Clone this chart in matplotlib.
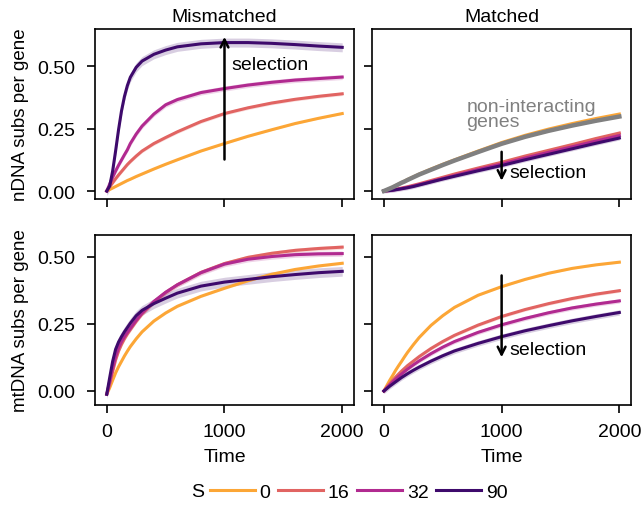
import numpy as np
import matplotlib.pyplot as plt

plt.rcParams['font.family'] = ['Liberation Sans', 'DejaVu Sans']
plt.rcParams['font.size'] = 14
plt.rcParams['axes.linewidth'] = 1.2

# czasy (wspolne dla wszystkich krzywych)
czas = [0, 25, 50, 75, 100, 125, 150, 175, 200, 250, 300, 400, 500, 600, 800, 1000, 1200, 1400, 1600, 1800, 2000]

S_labels = ['0', '16', '32', '90']
kolory = ['#fca636', '#e16462', '#b12a90', '#3e0a6c']

# nDNA, mismatched
nd_mis_0 = [0, 0.006, 0.012, 0.018, 0.024, 0.03, 0.036, 0.042, 0.047, 0.058, 0.068, 0.088, 0.107, 0.125, 0.16, 0.19, 0.219, 0.245, 0.27, 0.291, 0.31]
nd_mis_16 = [0, 0.017, 0.033, 0.049, 0.064, 0.078, 0.092, 0.106, 0.118, 0.14, 0.16, 0.19, 0.214, 0.237, 0.278, 0.31, 0.333, 0.352, 0.367, 0.379, 0.389]
nd_mis_32 = [0, 0.028, 0.055, 0.08, 0.103, 0.124, 0.145, 0.165, 0.19, 0.228, 0.26, 0.308, 0.345, 0.366, 0.394, 0.41, 0.424, 0.435, 0.444, 0.45, 0.456]
nd_mis_90 = [0, 0.02, 0.08, 0.16, 0.245, 0.32, 0.378, 0.422, 0.455, 0.495, 0.52, 0.547, 0.564, 0.577, 0.589, 0.594, 0.594, 0.591, 0.586, 0.58, 0.575]

# nDNA, matched
nd_mat_0 = [0, 0.005, 0.01, 0.016, 0.022, 0.028, 0.034, 0.04, 0.046, 0.057, 0.068, 0.088, 0.107, 0.125, 0.16, 0.194, 0.223, 0.248, 0.27, 0.29, 0.308]
nd_mat_16 = [0, 0.001, 0.003, 0.005, 0.007, 0.0095, 0.012, 0.0145, 0.017, 0.023, 0.029, 0.042, 0.055, 0.068, 0.092, 0.115, 0.14, 0.163, 0.186, 0.21, 0.232]
nd_mat_32 = [0, 0.001, 0.002, 0.004, 0.006, 0.008, 0.01, 0.0125, 0.015, 0.02, 0.026, 0.038, 0.05, 0.062, 0.086, 0.108, 0.132, 0.155, 0.177, 0.2, 0.222]
nd_mat_90 = [0, 0.001, 0.002, 0.003, 0.005, 0.007, 0.009, 0.011, 0.013, 0.018, 0.024, 0.036, 0.048, 0.059, 0.081, 0.102, 0.125, 0.147, 0.169, 0.191, 0.212]
nd_neutral = [0, 0.005, 0.01, 0.015, 0.021, 0.027, 0.033, 0.038, 0.044, 0.055, 0.066, 0.085, 0.104, 0.122, 0.156, 0.189, 0.217, 0.241, 0.262, 0.281, 0.298]

# mtDNA, mismatched
mt_mis_0 = [-0.012, 0.012, 0.04, 0.067, 0.09, 0.11, 0.13, 0.148, 0.165, 0.194, 0.22, 0.26, 0.29, 0.315, 0.352, 0.382, 0.41, 0.434, 0.452, 0.465, 0.475]
mt_mis_16 = [-0.012, 0.025, 0.072, 0.115, 0.148, 0.173, 0.194, 0.212, 0.228, 0.259, 0.287, 0.331, 0.366, 0.395, 0.441, 0.474, 0.497, 0.512, 0.523, 0.53, 0.535]
mt_mis_32 = [-0.012, 0.035, 0.085, 0.128, 0.16, 0.183, 0.202, 0.218, 0.233, 0.263, 0.29, 0.333, 0.367, 0.395, 0.44, 0.472, 0.49, 0.5, 0.507, 0.51, 0.511]
mt_mis_90 = [-0.012, 0.05, 0.11, 0.155, 0.182, 0.202, 0.22, 0.236, 0.252, 0.28, 0.3, 0.325, 0.345, 0.364, 0.39, 0.405, 0.415, 0.425, 0.433, 0.44, 0.445]

# mtDNA, matched
mt_mat_0 = [0, 0.02, 0.04, 0.058, 0.077, 0.094, 0.11, 0.127, 0.143, 0.172, 0.199, 0.244, 0.28, 0.311, 0.356, 0.388, 0.415, 0.438, 0.456, 0.469, 0.479]
mt_mat_16 = [0, 0.014, 0.027, 0.04, 0.052, 0.063, 0.074, 0.084, 0.094, 0.111, 0.128, 0.158, 0.184, 0.207, 0.245, 0.277, 0.303, 0.325, 0.344, 0.36, 0.373]
mt_mat_32 = [0, 0.012, 0.023, 0.034, 0.044, 0.054, 0.063, 0.072, 0.081, 0.097, 0.112, 0.139, 0.163, 0.184, 0.218, 0.246, 0.27, 0.291, 0.309, 0.323, 0.335]
mt_mat_90 = [0, 0.009, 0.018, 0.026, 0.034, 0.042, 0.05, 0.057, 0.064, 0.077, 0.089, 0.111, 0.131, 0.149, 0.177, 0.202, 0.224, 0.243, 0.261, 0.277, 0.292]

# polowa szerokosci pasma niepewnosci dla S = 0, 16, 32, 90
pasmo_nd_mis = [0.003, 0.007, 0.01, 0.018]
pasmo_nd_mat = [0.003, 0.005, 0.006, 0.008]
pasmo_mt_mis = [0.004, 0.008, 0.01, 0.018]
pasmo_mt_mat = [0.003, 0.006, 0.008, 0.01]

panele = [
    [[nd_mis_0, nd_mis_16, nd_mis_32, nd_mis_90], pasmo_nd_mis],
    [[nd_mat_0, nd_mat_16, nd_mat_32, nd_mat_90], pasmo_nd_mat],
    [[mt_mis_0, mt_mis_16, mt_mis_32, mt_mis_90], pasmo_mt_mis],
    [[mt_mat_0, mt_mat_16, mt_mat_32, mt_mat_90], pasmo_mt_mat],
]

fig, axes = plt.subplots(2, 2, figsize=(6.44, 5.10), dpi=100, sharex=True, sharey='row')
fig.subplots_adjust(left=0.1475, right=0.98, top=0.941, bottom=0.204, wspace=0.07, hspace=0.212)

t = np.array(czas)
linie = []
for ax, (serie, pasmo) in zip(axes.flat, panele):
    for i, y in enumerate(serie):
        y = np.array(y)
        ax.fill_between(t, y - pasmo[i], y + pasmo[i], color=kolory[i], alpha=0.2, lw=0)
        l, = ax.plot(t, y, color=kolory[i], lw=2.2)
        if ax is axes[0, 0]:
            linie.append(l)

# geny nieoddzialujace (szare)
axes[0, 1].plot(t, nd_neutral, color='#808080', lw=3.2)
axes[0, 1].text(700, 0.31, 'non-interacting\ngenes', color='#808080', fontsize=14,
                va='center', ha='left', linespacing=0.85)

axes[0, 0].set_ylim(-0.032, 0.648)
axes[1, 0].set_ylim(-0.052, 0.58)
axes[0, 0].set_xlim(-100, 2100)

for ax in axes.flat:
    ax.set_xticks([0, 1000, 2000])
    ax.tick_params(axis='both', direction='out', length=6, width=1.2)
    ax.tick_params(axis='y', pad=8)
    ax.tick_params(axis='x', pad=7)
for ax in axes[:, 0]:
    ax.set_yticks([0, 0.25, 0.5])
    ax.set_yticklabels(['0.00', '0.25', '0.50'])

axes[0, 0].set_title('Mismatched', fontsize=14, pad=6)
axes[0, 1].set_title('Matched', fontsize=14, pad=6)
axes[0, 0].set_ylabel('nDNA subs per gene', fontsize=13.5, labelpad=6)
axes[1, 0].set_ylabel('mtDNA subs per gene', fontsize=13.5, labelpad=6)
axes[1, 0].set_xlabel('Time', labelpad=6)
axes[1, 1].set_xlabel('Time', labelpad=6)

# strzalki "selection"
strzalka = dict(arrowstyle='->', lw=1.8, color='black', mutation_scale=14)
axes[0, 0].annotate('', xy=(1000, 0.628), xytext=(1000, 0.115), arrowprops=strzalka)
axes[0, 0].text(1060, 0.505, 'selection', va='center', ha='left')
axes[0, 1].annotate('', xy=(1000, 0.03), xytext=(1000, 0.168), arrowprops=strzalka)
axes[0, 1].text(1070, 0.073, 'selection', va='center', ha='left')
axes[1, 1].annotate('', xy=(1000, 0.115), xytext=(1000, 0.44), arrowprops=strzalka)
axes[1, 1].text(1070, 0.155, 'selection', va='center', ha='left')

# legenda na dole
fig.text(198 / 644, 1 - 493 / 510, 'S', ha='center', va='center', fontsize=14)
fig.legend(linie, S_labels, loc='center left', bbox_to_anchor=(210 / 644, 1 - 493 / 510),
           ncol=4, frameon=False, handlelength=2.3, handletextpad=0.25, columnspacing=0.4,
           borderaxespad=0, borderpad=0, fontsize=14)

plt.savefig('out.png', dpi=100)
